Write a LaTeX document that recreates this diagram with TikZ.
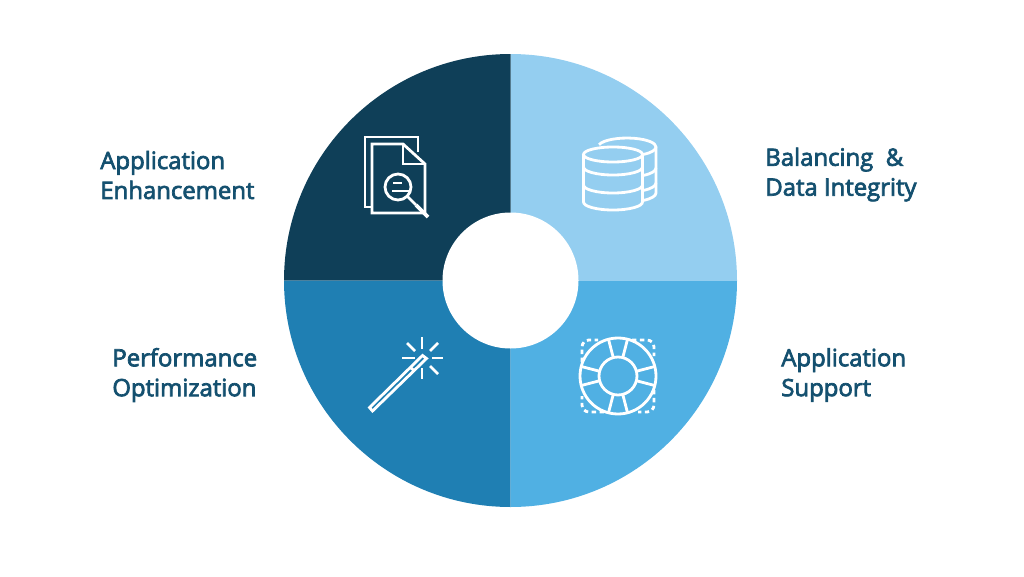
\documentclass[tikz,border=0pt]{standalone}
\usepackage{fontspec}
\setmainfont{Open Sans}[FakeBold=3]
\definecolor{segDark}{HTML}{0F3F58}
\definecolor{segLight}{HTML}{94CEF0}
\definecolor{segSky}{HTML}{50B0E3}
\definecolor{segBlue}{HTML}{1F7FB3}
\definecolor{labelBlue}{HTML}{14506F}
\begin{document}
\begin{tikzpicture}[
                    x=0.02cm, y=0.02cm,
                    segLabel/.style={anchor=west, align=left, inner sep=0, text=labelBlue, font=\fontsize{13.6}{17}\selectfont},
                    icon/.style={draw=white, line width=1.6pt, line join=miter},
                    ray/.style={draw=white, line width=1.6pt}
                    ]
    \useasboundingbox (0,0) rectangle (1024,576);
    %sectors
    \fill[segLight] (510.5,295.5) -- ++(0:226.5) arc (0:90:226.5) -- cycle;
    \fill[segDark] (510.5,295.5) -- ++(90:226.5) arc (90:180:226.5) -- cycle;
    \fill[segBlue] (510.5,295.5) -- ++(180:226.5) arc (180:270:226.5) -- cycle;
    \fill[segSky] (510.5,295.5) -- ++(270:226.5) arc (270:360:226.5) -- cycle;
    \fill[white] (510.5,295.5) circle (68);

    %labels
    \node[segLabel] at (100,401) (enhance) {Application\\Enhancement};
    \node[segLabel] at (765,401.5) (balance) {Balancing\ \ \&\\Data Integrity};
    \node[segLabel] at (112,201) (perform) {Performance\\Optimization};
    \node[segLabel] at (781,201) (support) {Application\\Support};

    %document icon
    \draw[icon] (418,424) -- (418,439) -- (365,439) -- (365,369) -- (372,369);
    \draw[icon] (403,432) -- (372,432) -- (372,363) -- (425,363) -- (425,412) -- cycle;
    \draw[icon] (403,432) -- (403,412) -- (425,412);
    \draw[icon, fill=segDark] (398,389) circle (13);
    \draw[icon] (407,380) -- (416,371);
    \draw[icon, line width=2.2pt] (416,371) -- (428,359);
    \draw[ray] (393,393) -- (402,393);
    \draw[ray] (392,385) -- (410,385);

    %database icon
    \draw[icon] (613,421.5) ellipse (29.5 and 7.5);
    \draw[icon] (583.5,421.5) -- (583.5,374) arc (180:360:29.5 and 8) -- (642.5,421.5);
    \foreach \y in {409,391}
        \draw[icon] (583.5,\y) arc (180:360:29.5 and 8);
    \draw[icon] (599,431.3) arc (165:0:29 and 9) -- (656,383) arc (0:-56:29 and 9);
    \foreach \y in {429,408,393}
        \draw[icon] (656,\y) arc (0:-56:29 and 9);

    %lifebuoy icon
    \begin{scope}[shift={(618,200)}]
        \draw[icon] (0,0) circle (38);
        \draw[icon] (0,0) circle (19);
        \foreach \a in {0,90,180,270}{
            \draw[icon] (\a+14.5:19) -- (\a+14.5:38);
            \draw[icon] (\a-14.5:19) -- (\a-14.5:38);
            \draw[icon, rotate=\a, rounded corners=4, dash pattern=on 2.5pt off 2pt] (-36,14) -- (-36,36) -- (-20,36);
        }
    \end{scope}

    %wand icon
    \draw[icon] (422.5,220.5) -- (426.5,217.5) -- (372.5,165) -- (369.5,168.5) -- cycle;
    \draw[icon] (410.5,208.5) -- (414.5,205);
    \draw[ray] (422,239) -- (422,227);
    \draw[ray] (422,208) -- (422,197);
    \draw[ray] (402,218) -- (415,218);
    \draw[ray] (432,218) -- (443,218);
    \draw[ray] (407,233) -- (415,225);
    \draw[ray] (438,233) -- (430,225);
    \draw[ray] (430,210) -- (438,202);
\end{tikzpicture}
\end{document}
